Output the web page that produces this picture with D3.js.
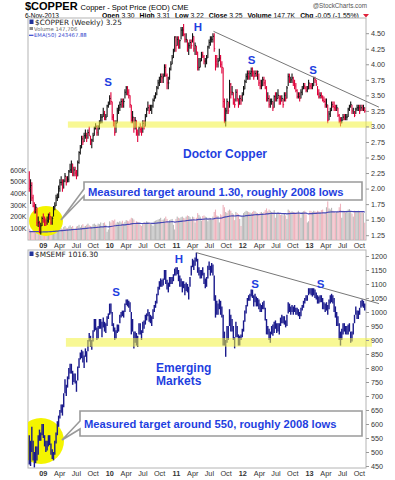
<!DOCTYPE html>
<html><head><meta charset="utf-8">
<script src="https://cdn.jsdelivr.net/npm/d3@7"></script>
<style>body{margin:0;background:#fff}svg{display:block}</style>
</head><body><svg id="c" width="395" height="480"></svg>
<script>
// ---------- DATA (weekly bars, Fridays from 24-Oct-2008 to 8-Nov-2013) ----------
const firstWeek = "2008-10-24";
const lastWeek = "2013-11-08";
const cuHigh = [
2.28,2.15,2.10,1.90,1.78,1.75,1.70,1.55,1.48,1.45,
1.55,1.60,1.55,1.52,1.55, 1.60,1.62,1.55,1.55, 1.72,1.78,1.90,1.92, 2.05,2.15,2.20,2.15, 2.15,2.25,2.20,2.20,2.30, 2.40,2.45,2.40,2.35,
2.35,2.30,2.45,2.60,2.70, 2.85,2.85,2.90,2.95, 2.90,2.95,3.00,2.85, 2.80,2.90,3.00,3.05,3.02, 3.02,3.10,3.20,3.20, 3.30,3.25,3.20,3.35,
3.40,3.50,3.55,3.40,3.20, 3.10,3.10,3.30,3.35, 3.40,3.45,3.45,3.45, 3.60,3.65,3.65,3.60,3.50, 3.35,3.25,3.15,3.15, 3.10,2.95,3.00,3.05,
3.00,3.10,3.10,3.20,3.30, 3.40,3.35,3.35,3.35, 3.45,3.50,3.55,3.65, 3.75,3.80,3.85,3.85,3.85, 4.00,4.00,3.85,3.80, 3.95,4.05,4.15,4.25,4.45,
4.45,4.45,4.45,4.40, 4.60,4.60,4.65,4.50, 4.50,4.40,4.35,4.40, 4.40,4.50,4.45,4.35,4.30, 4.20,4.10,4.10,4.20, 4.20,4.15,4.10,4.15,
4.30,4.40,4.45,4.45,4.50, 4.50,4.15,4.15,4.10, 4.25,4.15,4.05,3.95,3.45, 3.30,3.45,3.40,3.75, 3.70,3.65,3.55,3.45, 3.60,3.60,3.45,3.50,3.50,
3.55,3.65,3.75,3.85, 3.90,3.90,3.90,3.95, 3.95,3.90,3.90,3.90,3.90, 3.85,3.75,3.75,3.80, 3.80,3.75,3.65,3.55, 3.50,3.45,3.45,3.40,3.50,
3.55,3.55,3.60,3.50, 3.50,3.50,3.45,3.55,3.55, 3.65,3.85,3.85,3.80, 3.85,3.80,3.75,3.70, 3.60,3.55,3.55,3.60,3.65, 3.70,3.70,3.65,3.65,
3.75,3.70,3.70,3.70, 3.80,3.80,3.75,3.65, 3.60,3.55,3.55,3.50,3.48, 3.45,3.45,3.35,3.25, 3.30,3.40,3.40,3.40,3.35, 3.35,3.30,3.20,3.15,
3.15,3.20,3.20,3.20, 3.20,3.30,3.35,3.40,3.35, 3.30,3.25,3.30,3.35, 3.35,3.35,3.35,3.35, 3.35,3.31];
const cuLow = [
1.95,1.75,1.80,1.70,1.60,1.60,1.40,1.38,1.28,1.26,
1.40,1.45,1.40,1.40,1.42, 1.45,1.50,1.42,1.42, 1.55,1.65,1.72,1.80, 1.85,1.95,2.05,1.95, 2.00,2.10,2.05,2.10,2.10, 2.25,2.25,2.20,2.20,
2.20,2.15,2.20,2.40,2.55, 2.65,2.70,2.75,2.80, 2.75,2.80,2.85,2.70, 2.65,2.75,2.85,2.95,2.85, 2.85,2.95,3.05,3.05, 3.15,3.10,3.10,3.15,
3.30,3.35,3.35,3.10,3.00, 2.85,2.90,3.05,3.20, 3.25,3.30,3.30,3.30, 3.45,3.50,3.50,3.45,3.30, 3.05,3.05,2.90,2.95, 2.85,2.75,2.85,2.90,
2.85,2.90,2.95,3.00,3.15, 3.25,3.20,3.25,3.20, 3.30,3.40,3.45,3.50, 3.60,3.65,3.70,3.70,3.70, 3.80,3.80,3.60,3.60, 3.75,3.90,4.00,4.10,4.20,
4.20,4.30,4.25,4.25, 4.40,4.45,4.45,4.35, 4.35,4.20,4.15,4.25, 4.25,4.35,4.20,4.15,4.15, 3.90,3.90,3.95,4.05, 4.10,4.00,3.95,4.00,
4.10,4.25,4.30,4.35,4.35, 4.20,3.90,3.95,3.95, 4.05,3.95,3.85,3.30,3.05, 3.00,3.20,3.20,3.30, 3.45,3.50,3.35,3.30, 3.40,3.40,3.30,3.35,3.35,
3.40,3.50,3.60,3.70, 3.75,3.75,3.75,3.80, 3.80,3.75,3.80,3.80,3.75, 3.65,3.60,3.60,3.65, 3.65,3.60,3.40,3.40, 3.30,3.30,3.35,3.25,3.30,
3.40,3.40,3.45,3.35, 3.35,3.40,3.30,3.40,3.40, 3.45,3.65,3.70,3.70, 3.70,3.65,3.60,3.55, 3.45,3.45,3.40,3.45,3.50, 3.60,3.60,3.55,3.55,
3.60,3.60,3.60,3.60, 3.65,3.70,3.65,3.50, 3.45,3.45,3.45,3.40,3.38, 3.30,3.30,3.05,3.10, 3.15,3.25,3.30,3.25,3.25, 3.25,3.15,3.05,3.00,
3.05,3.10,3.10,3.10, 3.10,3.15,3.25,3.30,3.20, 3.20,3.15,3.20,3.25, 3.25,3.20,3.25,3.25, 3.25,3.22];
const cuClose = [
2.00,2.05,1.85,1.72,1.65,1.70,1.45,1.45,1.32,1.40,
1.52,1.50,1.48,1.45,1.48, 1.58,1.55,1.45,1.52, 1.70,1.72,1.85,1.85, 2.00,2.10,2.10,2.00, 2.12,2.20,2.10,2.15,2.28, 2.30,2.40,2.25,2.30,
2.25,2.20,2.42,2.58,2.65, 2.80,2.75,2.85,2.85, 2.82,2.90,2.85,2.75, 2.78,2.85,2.98,3.00,2.90, 3.00,3.05,3.15,3.15, 3.20,3.12,3.15,3.33,
3.35,3.45,3.40,3.15,3.05, 2.90,3.05,3.25,3.30, 3.35,3.40,3.35,3.40, 3.55,3.62,3.55,3.50,3.35, 3.10,3.15,3.00,3.10, 2.90,2.88,2.98,2.95,
2.90,3.05,3.00,3.15,3.28, 3.30,3.25,3.28,3.33, 3.42,3.45,3.52,3.62, 3.70,3.75,3.80,3.78,3.80, 3.95,3.82,3.70,3.70, 3.92,4.00,4.10,4.20,4.44,
4.30,4.40,4.30,4.38, 4.55,4.55,4.48,4.40, 4.40,4.25,4.30,4.35, 4.30,4.45,4.25,4.30,4.20, 3.95,3.95,4.05,4.15, 4.12,4.05,4.05,4.10,
4.28,4.35,4.40,4.40,4.45, 4.25,4.05,4.00,4.05, 4.10,4.00,3.95,3.40,3.15, 3.25,3.40,3.25,3.68, 3.55,3.55,3.38,3.35, 3.55,3.45,3.35,3.45,3.43,
3.50,3.60,3.72,3.80, 3.85,3.80,3.85,3.88, 3.85,3.80,3.85,3.82,3.88, 3.70,3.65,3.65,3.75, 3.70,3.62,3.45,3.45, 3.35,3.40,3.40,3.30,3.48,
3.45,3.45,3.50,3.45, 3.40,3.45,3.35,3.50,3.45, 3.62,3.80,3.75,3.75, 3.78,3.70,3.65,3.58, 3.48,3.48,3.45,3.55,3.60, 3.65,3.62,3.58,3.60,
3.70,3.65,3.62,3.65, 3.78,3.75,3.68,3.52, 3.48,3.50,3.48,3.42,3.40, 3.35,3.35,3.10,3.20, 3.25,3.35,3.32,3.30,3.28, 3.30,3.18,3.08,3.05,
3.10,3.15,3.12,3.15, 3.15,3.28,3.32,3.35,3.25, 3.28,3.18,3.28,3.30, 3.30,3.25,3.30,3.28, 3.30,3.25];
// weekly volume, thousands of contracts
const cuVolume = [
95,80,70,85,75,60,70,65,55,40,
50,75,80,70,85, 90,80,95,85, 100,95,110,90, 105,115,100,95, 110,120,105,100,115, 125,110,120,100,
95,115,120,130,110, 125,135,115,120, 130,140,125,120, 115,135,140,130,125, 140,135,150,110, 145,150,130,70,
90,160,150,170,165, 175,140,155,150, 160,150,165,140, 155,170,165,160,175, 190,185,175,140, 160,155,150,130,
120,140,150,145,160, 155,150,140,135, 120,160,165,170, 175,180,190,170,175, 185,200,180,150, 170,175,180,130,90,
180,200,190,185, 195,200,190,185, 200,210,205,195, 180,200,195,150,190, 230,215,200,165, 205,210,200,195,
160,190,185,175,200, 240,260,210,205, 150,220,210,300,280, 240,230,250,260, 250,230,220,170, 240,230,220,180,120,
200,230,240,250, 245,240,235,230, 240,250,245,235,230, 220,235,240,230, 240,255,270,245, 260,250,240,235,255,
190,230,240,225, 215,220,210,225,210, 180,260,250,240, 245,240,235,230, 240,250,225,190,240, 245,250,220,150,
160,250,245,240, 250,245,240,250, 245,240,255,260,220, 230,280,330,270, 260,275,250,240,230, 240,250,280,310,
190,250,240,235, 250,260,265,240,225, 200,250,245,240, 250,245,235,240, 230,148];
const emaSeed = 70; // EMA(50) of volume just before the first bar, thousands
const emHigh = [
560,540,590,540,500,520,520,560,580,570,
600,600,560,540,540, 560,560,530,510, 500,540,570,610, 630,650,670,670, 710,760,740,770,800, 815,815,790,780,
780,755,805,835,855, 865,860,845,870, 860,900,925,915, 900,935,975,975,945, 950,975,975,965, 980,965,960,985,
995,1030,1030,1000,960, 945,935,955,955, 990,1000,1005,1005, 1030,1045,1045,1040,1035, 1000,975,930,930, 925,915,960,960,
935,965,970,990,995, 1010,1000,990,985, 1010,1025,1040,1065, 1090,1110,1120,1115,1120, 1150,1150,1115,1105, 1125,1125,1125,1135,1155,
1160,1160,1150,1130, 1120,1110,1110,1100, 1105,1100,1090,1125, 1165,1190,1185,1195,1212, 1190,1160,1150,1150, 1160,1140,1120,1125,
1165,1180,1165,1175,1170, 1130,1060,1040,1030, 1045,1040,1020,990,930, 900,950,950,1010, 990,975,950,910, 965,950,920,915,920,
940,970,1005,1025, 1050,1060,1065,1080, 1080,1060,1065,1055,1050, 1045,1030,1025,1035, 1040,1015,975,950, 940,930,950,955,965,
970,960,960,960, 980,990,985,985,970, 990,1035,1030,1020, 1025,1020,1025,1015, 1015,1010,1000,1015,1025, 1040,1050,1060,1060,
1085,1085,1085,1085, 1085,1080,1070,1060, 1055,1060,1060,1050,1035, 1030,1035,1025,1045, 1060,1065,1060,1050,1020, 1000,985,960,930,
940,960,960,950, 950,955,960,930,930, 960,990,1020,1005, 1005,1015,1040,1045, 1040,1030];
const emLow = [
455,450,500,470,445,460,470,490,540,540,
560,550,520,500,505, 520,525,490,475, 470,490,530,560, 590,620,640,630, 660,710,700,730,760, 780,780,740,750,
745,715,755,800,830, 835,820,800,840, 820,860,895,875, 865,895,930,935,900, 905,940,940,910, 945,930,925,950,
975,990,995,950,930, 900,905,925,930, 960,980,985,980, 1000,1025,1020,1015,1000, 920,930,870,890, 880,875,920,920,
900,925,940,955,970, 985,965,960,950, 975,1000,1015,1030, 1060,1080,1090,1090,1095, 1115,1100,1080,1070, 1090,1100,1100,1110,1130,
1130,1135,1110,1090, 1090,1070,1085,1060, 1075,1070,1045,1090, 1130,1160,1150,1165,1180, 1140,1130,1120,1120, 1130,1100,1085,1090,
1120,1150,1130,1140,1130, 1040,980,990,990, 1010,990,980,880,880, 840,890,900,950, 930,930,900,870, 910,910,880,880,900,
910,930,965,995, 1020,1040,1040,1055, 1050,1020,1035,1020,1020, 1010,1000,1000,1010, 1010,970,920,920, 900,890,920,915,925,
940,925,930,920, 950,960,960,955,945, 950,995,1000,990, 1000,990,1000,990, 990,985,975,985,1005, 1015,1030,1040,1040,
1060,1065,1060,1055, 1060,1050,1045,1030, 1030,1035,1035,1010,1010, 1000,1005,990,1010, 1030,1035,1030,1000,980, 950,950,900,880,
900,920,930,920, 920,920,930,890,895, 920,960,990,975, 975,990,1015,1020, 1015,1005];

const priceTicks = [1.25,1.50,1.75,2.00,2.25,2.50,2.75,3.00,3.25,3.50,3.75,4.00,4.25,4.50];
const emTicks = [450,500,550,600,650,700,750,800,850,900,950,1000,1050,1100,1150,1200];
const volTicks = [100,200,300,400,500,600];
// support zones and resistance lines (data space)
const cuSupport = {from:"2009-05-24", lo:2.98, hi:3.08};
const emSupport = {from:"2009-05-13", lo:876, hi:907};
const cuTrend = [["2011-08-01",4.53],["2014-01-25",3.31]];
const emTrend = [["2011-04-29",1212],["2014-01-25",1030]];

// ---------- LAYOUT ----------
const L = 28, R = 366;
const P1 = {top:18, bottom:240}, P2 = {top:250, bottom:468};
const FONT = "'Liberation Sans', Arial, sans-serif";
const BLUE = "#1f3fe0";
const svg = d3.select("#c");
const parse = d3.utcParse("%Y-%m-%d");

const dates = d3.utcFriday.range(parse(firstWeek), d3.utcDay.offset(parse(lastWeek),1));
const n = Math.min(dates.length, cuHigh.length, cuLow.length, cuClose.length, cuVolume.length, emHigh.length, emLow.length);

const x = d3.scaleUtc().domain([parse("2008-10-17"), parse("2013-11-15")]).range([L, R]);
const yCu = d3.scaleLinear().domain([1.25, 4.5]).range([235.2, 33.2]);
const yVol = d3.scaleLinear().domain([0, 600]).range([P1.bottom, 169.8]);
const yEm = d3.scaleLinear().domain([450, 1200]).range([466, 256]);

// clip paths
const defs = svg.append("defs");
defs.append("clipPath").attr("id","clip1").append("rect").attr("x",L).attr("y",P1.top).attr("width",R-L).attr("height",P1.bottom-P1.top);
defs.append("clipPath").attr("id","clip2").append("rect").attr("x",L).attr("y",P2.top).attr("width",R-L).attr("height",P2.bottom-P2.top);

// ---------- HEADER ----------
const hdr = svg.append("g").attr("font-family", FONT);
hdr.append("text").attr("x",25).attr("y",10).attr("font-size",11).attr("font-weight","bold").text("$COPPER")
  .append("tspan").attr("font-size",7.5).attr("font-weight","normal").attr("dx",3).text("Copper - Spot Price (EOD) CME");
hdr.append("text").attr("x",25).attr("y",17.5).attr("font-size",6.5).text("6-Nov-2013");
const q = hdr.append("text").attr("x",102).attr("y",17.5).attr("font-size",6.8);
[["Open","3.30"],["High","3.31"],["Low","3.22"],["Close","3.25"],["Volume","147.7K"],["Chg","-0.05 (-1.55%)"]].forEach((p,i)=>{
  q.append("tspan").attr("font-weight","bold").attr("dx", i? 5:0).text(p[0]);
  q.append("tspan").attr("dx",2).text(p[1]);
});
hdr.append("path").attr("d","M363,14 L369,14 L366,17.5 Z").attr("fill","#e0203a");
hdr.append("text").attr("x",367).attr("y",8).attr("text-anchor","end").attr("font-size",6.3).attr("fill","#555").text("@StockCharts.com");

// ---------- PANEL 1 ----------
const p1 = svg.append("g");
p1.append("rect").attr("x",L).attr("y",P1.top).attr("width",R-L).attr("height",P1.bottom-P1.top)
  .attr("fill","#fff").attr("stroke","#b4b4b4");
const c1 = p1.append("g").attr("clip-path","url(#clip1)");
const idx = d3.range(n);
const isUp = i => i>0 && cuClose[i] >= cuClose[i-1];
// volume bars
c1.append("g").selectAll("rect").data(idx).join("rect")
  .attr("x", i => x(dates[i]) - 0.55).attr("width", 1.1)
  .attr("y", i => yVol(cuVolume[i])).attr("height", i => P1.bottom - yVol(cuVolume[i]))
  .attr("fill", i => isUp(i) ? "#b9b9b9" : "#eeb3bd");
// yellow highlight circle
c1.append("ellipse").attr("cx",46).attr("cy",221).attr("rx",17).attr("ry",15).attr("fill","#f4f400");
// volume EMA(50)
const k = 2/51; let e = emaSeed;
const ema = cuVolume.slice(0,n).map(v => (e = e + k*(v - e)));
c1.append("path").datum(idx).attr("fill","none").attr("stroke","#4848b4").attr("stroke-width",1.2)
  .attr("d", d3.line().x(i => x(dates[i])).y(i => yVol(ema[i])));
// price bars
const pb = c1.append("g");
pb.selectAll("line.hl").data(idx).join("line").attr("class","hl")
  .attr("x1", i => x(dates[i])).attr("x2", i => x(dates[i]))
  .attr("y1", i => yCu(cuHigh[i])).attr("y2", i => yCu(cuLow[i]))
  .attr("stroke", i => isUp(i) ? "#111" : "#e0003a").attr("stroke-width",1.1);
pb.selectAll("line.cl").data(idx).join("line").attr("class","cl")
  .attr("x1", i => x(dates[i])).attr("x2", i => x(dates[i])+1)
  .attr("y1", i => yCu(cuClose[i])).attr("y2", i => yCu(cuClose[i]))
  .attr("stroke", i => isUp(i) ? "#111" : "#e0003a").attr("stroke-width",1);
// support band
p1.append("rect").attr("x", x(parse(cuSupport.from))).attr("width", R + 6 - x(parse(cuSupport.from)))
  .attr("y", yCu(cuSupport.hi)).attr("height", yCu(cuSupport.lo) - yCu(cuSupport.hi))
  .attr("fill","#f2f23c").attr("opacity",0.55);
// trend line
p1.append("line").attr("x1", x(parse(cuTrend[0][0]))).attr("y1", yCu(cuTrend[0][1]))
  .attr("x2", x(parse(cuTrend[1][0]))).attr("y2", yCu(cuTrend[1][1])).attr("stroke","#777").attr("stroke-width",1);
// axes
p1.append("g").attr("transform",`translate(${R},0)`)
  .call(d3.axisRight(yCu).tickValues(priceTicks).tickFormat(d3.format(".2f")).tickSize(3).tickPadding(2))
  .call(g => { g.select(".domain").remove(); g.selectAll("line").attr("stroke","#999");
    g.selectAll("text").attr("font-family",FONT).attr("font-size",7.2).attr("fill","#333"); });
p1.append("g").attr("transform",`translate(${L},0)`)
  .call(d3.axisLeft(yVol).tickValues(volTicks).tickFormat(d => d + "K").tickSize(0).tickPadding(1.5))
  .call(g => { g.select(".domain").remove();
    g.selectAll("text").attr("font-family",FONT).attr("font-size",7).attr("fill","#333"); });
// legend
const lg1 = p1.append("g").attr("font-family","'DejaVu Sans', Verdana, sans-serif");
lg1.append("rect").attr("x",29.5).attr("y",19.5).attr("width",4).attr("height",4.5).attr("fill","#223399");
lg1.append("text").attr("x",35).attr("y",25).attr("font-size",7.3).attr("fill","#222").text("$COPPER (Weekly) 3.25");
lg1.append("rect").attr("x",29.5).attr("y",27).attr("width",3.5).attr("height",3).attr("fill","#888");
lg1.append("text").attr("x",34).attr("y",31).attr("font-size",5.3).attr("fill","#666").text("Volume 147,706");
lg1.append("line").attr("x1",29).attr("x2",33.5).attr("y1",35.3).attr("y2",35.3).attr("stroke","#3344cc").attr("stroke-width",1.2);
lg1.append("text").attr("x",34).attr("y",37.3).attr("font-size",5.3).attr("fill","#3344cc").text("EMA(50) 243467.88");

// ---------- PANEL 2 ----------
const p2 = svg.append("g");
p2.append("rect").attr("x",L).attr("y",P2.top).attr("width",R-L).attr("height",P2.bottom-P2.top)
  .attr("fill","#fff").attr("stroke","#b4b4b4");
const c2 = p2.append("g").attr("clip-path","url(#clip2)");
c2.append("circle").attr("cx",41).attr("cy",441).attr("r",23).attr("fill","#f4f400");
c2.append("g").selectAll("line").data(idx).join("line")
  .attr("x1", i => x(dates[i])).attr("x2", i => x(dates[i]))
  .attr("y1", i => yEm(emHigh[i])).attr("y2", i => yEm(emLow[i]))
  .attr("stroke","#1a1a8c").attr("stroke-width",1.4);
p2.append("rect").attr("x", x(parse(emSupport.from))).attr("width", R + 6 - x(parse(emSupport.from)))
  .attr("y", yEm(emSupport.hi)).attr("height", yEm(emSupport.lo) - yEm(emSupport.hi))
  .attr("fill","#f2f23c").attr("opacity",0.55);
p2.append("line").attr("x1", x(parse(emTrend[0][0]))).attr("y1", yEm(emTrend[0][1]))
  .attr("x2", x(parse(emTrend[1][0]))).attr("y2", yEm(emTrend[1][1])).attr("stroke","#777").attr("stroke-width",1);
p2.append("g").attr("transform",`translate(${R},0)`)
  .call(d3.axisRight(yEm).tickValues(emTicks).tickFormat(d3.format("d")).tickSize(3).tickPadding(2))
  .call(g => { g.select(".domain").remove(); g.selectAll("line").attr("stroke","#999");
    g.selectAll("text").attr("font-family",FONT).attr("font-size",7.2).attr("fill","#333"); });
const lg2 = p2.append("g").attr("font-family","'DejaVu Sans', Verdana, sans-serif");
lg2.append("rect").attr("x",29.5).attr("y",251.5).attr("width",4).attr("height",4.5).attr("fill","#223399");
lg2.append("text").attr("x",35).attr("y",257).attr("font-size",7.3).attr("fill","#222").text("$MSEMF  1016.30");

// ---------- X AXES ----------
const months = d3.utcMonth.every(3).range(parse("2009-01-01"), parse("2013-11-01"));
const fmt = d => d.getUTCMonth() === 0 ? d3.utcFormat("%y")(d) : d3.utcFormat("%b")(d);
[P1.bottom, P2.bottom].forEach(yy => {
  svg.append("g").attr("transform",`translate(1,${yy})`)
    .call(d3.axisBottom(x).tickValues(months).tickFormat(fmt).tickSize(0).tickPadding(3))
    .call(g => { g.select(".domain").remove();
      g.selectAll("text").attr("font-family",FONT).attr("font-size",7.3).attr("fill","#333")
        .attr("font-weight", d => d.getUTCMonth()===0 ? "bold" : "normal"); });
});

// ---------- ANNOTATIONS ----------
const ann = svg.append("g").attr("font-family",FONT).attr("font-weight","bold").attr("fill",BLUE);
const marks = [["S",108,85.5],["H",198,31],["S",251.5,63.5],["S",313,73.5],
               ["S",116,296],["H",179,262.5],["S",255,287.5],["S",320.5,287.5]];
ann.selectAll("text.m").data(marks).join("text").attr("class","m")
  .attr("x", d => d[1]).attr("y", d => d[2]).attr("text-anchor","middle").attr("font-size",11.5).text(d => d[0]);
ann.append("text").attr("x",183).attr("y",157.5).attr("font-size",12).text("Doctor Copper");
ann.append("text").attr("x",156).attr("y",371.5).attr("font-size",12).text("Emerging");
ann.append("text").attr("x",156).attr("y",385).attr("font-size",12).text("Markets");

// callouts
const callouts = [
  {box:[84,182,362,200], tail:[[84,189],[61,220],[84,196]], text:"Measured target around 1.30, roughly 2008 lows", tx:88, ty:195.5},
  {box:[80,411,362,436], tail:[[80,421],[62,440],[80,429]], text:"Measured target around 550, roughly 2008 lows", tx:84, ty:428}
];
callouts.forEach(c => {
  const [x0,y0,x1,y1] = c.box, t = c.tail;
  const d = `M${x0},${y0}H${x1}V${y1}H${x0}V${t[2][1]}L${t[1][0]},${t[1][1]}L${t[0][0]},${t[0][1]}Z`;
  svg.append("path").attr("d",d).attr("fill","#fff").attr("stroke","#9a9a9a").attr("stroke-width",1.6);
  svg.append("text").attr("x",c.tx).attr("y",c.ty).attr("font-family",FONT).attr("font-weight","bold")
    .attr("font-size",11.2).attr("fill",BLUE).text(c.text);
});
</script></body></html>
